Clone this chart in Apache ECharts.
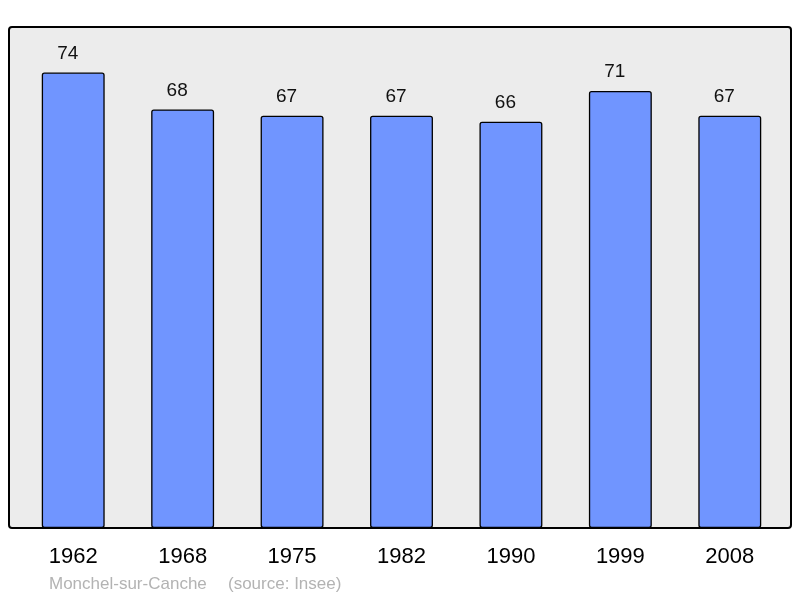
<!DOCTYPE html>
<html>
<head>
<meta charset="utf-8">
<script src="https://cdn.jsdelivr.net/npm/echarts@6/dist/echarts.min.js"></script>
<style>html,body{margin:0;padding:0;background:#fff}#c{width:800px;height:598px}</style>
</head>
<body>
<div id="c"></div>
<script>
var categories = ['1962', '1968', '1975', '1982', '1990', '1999', '2008'];
var population = [74, 68, 67, 67, 66, 71, 67];
var placeName = 'Monchel-sur-Canche';
var sourceText = '(source: Insee)';

var chart = echarts.init(document.getElementById('c'), null, {renderer: 'canvas'});
chart.setOption({
  animation: false,
  textStyle: {fontFamily: 'Liberation Sans, Arial, sans-serif'},
  grid: {left: 18.5, right: 15.5, top: 27, bottom: 70},
  graphic: [
    {type: 'rect', z: 0, shape: {x: 9, y: 27, width: 782, height: 501, r: 3},
     style: {fill: '#ececec', stroke: '#000', lineWidth: 2}},
    {type: 'text', left: 49, top: 576, style: {text: placeName, fill: '#b3b3b3', font: '17px "Liberation Sans", Arial, sans-serif'}},
    {type: 'text', left: 228, top: 576, style: {text: sourceText, fill: '#b3b3b3', font: '17px "Liberation Sans", Arial, sans-serif'}}
  ],
  xAxis: {
    type: 'category', data: categories,
    axisLine: {show: false}, axisTick: {show: false}, splitLine: {show: false},
    axisLabel: {color: '#000', fontSize: 22, lineHeight: 22, margin: 18, fontFamily: 'Liberation Sans'}
  },
  yAxis: {type: 'value', min: 0, max: 81.4, show: false, splitLine: {show: false}},
  series: [{
    type: 'bar', data: population, barWidth: '57.5%', z: 2,
    itemStyle: {color: '#7095ff', borderColor: '#000', borderWidth: 1.3, borderRadius: 2},
    label: {show: true, position: 'top', distance: 9, offset: [-5.5, 0], color: '#111', fontSize: 19, lineHeight: 20, fontFamily: 'Liberation Sans'}
  }]
});
</script>
</body>
</html>
